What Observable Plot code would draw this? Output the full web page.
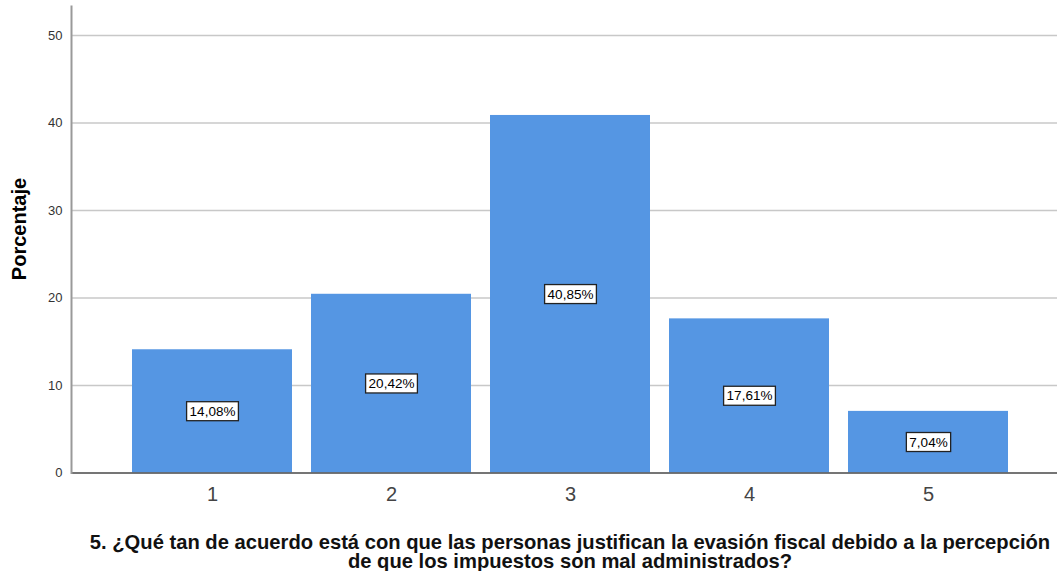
<!DOCTYPE html>
<html>
<head>
<meta charset="utf-8">
<script src="https://cdn.jsdelivr.net/npm/d3@7"></script>
<script src="https://cdn.jsdelivr.net/npm/@observablehq/plot@0.6"></script>
<style>
  html, body { margin: 0; padding: 0; background: #fff; overflow: hidden; }
  body { font-family: Arial, "Liberation Sans", sans-serif; width: 1057px; position: relative; }
  #title {
    margin-top: 17.5px;
    box-sizing: border-box;
    padding-left: 83px;
    width: 1057px;
    text-align: center;
    font-weight: bold;
    font-size: 20.2px;
    line-height: 19.5px;
    color: #111;
    white-space: nowrap;
  }
  #ylabel {
    position: absolute;
    left: 18.5px;
    top: 229px;
    transform: translate(-50%, -50%) rotate(-90deg);
    font-weight: bold;
    font-size: 20px;
    color: #000;
    white-space: nowrap;
  }
</style>
</head>
<body>
<div id="chart"></div>
<div id="ylabel"></div>
<div id="title">5. ¿Qué tan de acuerdo está con que las personas justifican la evasión fiscal debido a la percepción<br>de que los impuestos son mal administrados?</div>
<script>
const categories = ["1", "2", "3", "4", "5"];
const values = [14.08, 20.42, 40.85, 17.61, 7.04];
const yTicks = [0, 10, 20, 30, 40, 50];
const yLabel = "Porcentaje";

document.getElementById("ylabel").textContent = yLabel;

const data = categories.map((c, i) => ({cat: c, value: values[i], label: values[i].toFixed(2).replace(".", ",") + "%"}));

const plot = Plot.plot({
  width: 1057,
  height: 515,
  marginLeft: 71,
  marginRight: 0,
  marginTop: 6,
  marginBottom: 42.5,
  style: {fontFamily: "Arial, 'Liberation Sans', sans-serif", background: "#fff"},
  x: {domain: categories, paddingInner: 0.104, paddingOuter: 0.2946, align: 0.557, label: null},
  y: {domain: [0, 53.3], label: null},
  marks: [
    Plot.gridY(yTicks, {stroke: "#c8c8c8", strokeOpacity: 1, strokeWidth: 1.5}),
    Plot.barY(data, {x: "cat", y: "value", fill: "#5596e3"}),
    Plot.ruleY([0], {stroke: "#555", strokeWidth: 1.5}),
    Plot.frame({anchor: "left", stroke: "#999", strokeWidth: 2}),
    Plot.axisY(yTicks, {tickSize: 0, tickPadding: 9, fontSize: 13, fill: "#333", label: null}),
    Plot.axisX({tickSize: 0, tickPadding: 14, fontSize: 20, fill: "#444", label: null}),
    Plot.text(data, {x: "cat", y: d => d.value / 2, text: "label", fontSize: 13.5, fill: "#000"})
  ]
});
document.getElementById("chart").appendChild(plot);

// white boxes behind value labels
const NS = "http://www.w3.org/2000/svg";
plot.querySelectorAll("text").forEach(t => {
  if (!/%$/.test(t.textContent)) return;
  const b = t.getBBox();
  const padX = 3, padY = 2;
  const r = document.createElementNS(NS, "rect");
  r.setAttribute("x", b.x - padX);
  r.setAttribute("y", b.y - padY);
  r.setAttribute("width", b.width + 2 * padX);
  r.setAttribute("height", b.height + 2 * padY);
  const tr = t.getAttribute("transform");
  if (tr) r.setAttribute("transform", tr);
  r.setAttribute("fill", "#fff");
  r.setAttribute("stroke", "#222");
  r.setAttribute("stroke-width", "1.3");
  t.parentNode.insertBefore(r, t);
});
</script>
</body>
</html>
